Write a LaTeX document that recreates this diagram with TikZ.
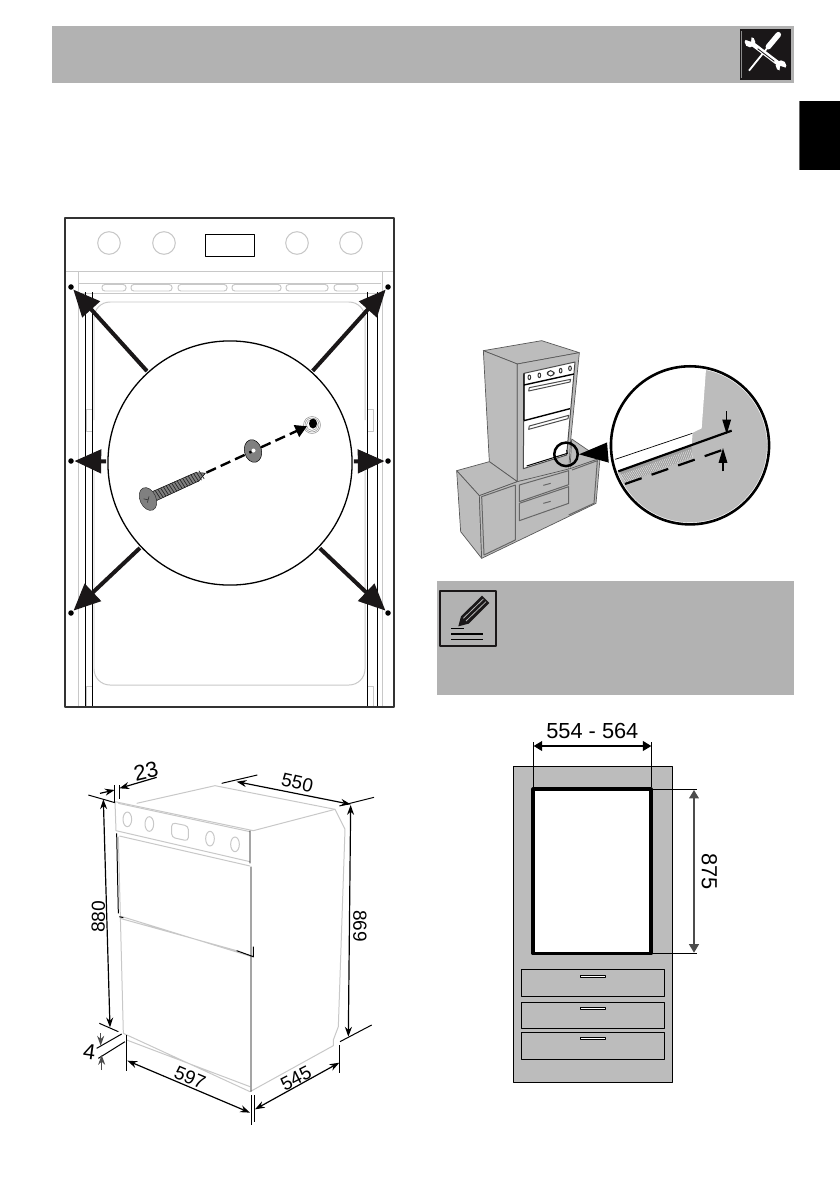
\documentclass[tikz,border=0pt]{standalone}
\usepackage{fontspec}
\setmainfont{Liberation Sans}
\usetikzlibrary{arrows.meta, shapes.geometric}
\definecolor{bargray}{HTML}{B2B2B2}
\definecolor{unitgray}{HTML}{BCBCBC}
\definecolor{edgegray}{HTML}{C8C8C8}
\definecolor{iconblack}{HTML}{1A1718}
\tikzset{>=Latex}
\tikzset{
	px/.style={line width=#1*0.2835pt},
	faint/.style={draw=edgegray, px=1},
	hair/.style={draw=black, px=1},
	mount dot/.style={circle, fill=black, minimum size=.55mm, inner sep=0pt},
	fix arrow/.style={draw=iconblack, px=4, -{Triangle[length=7.6pt, width=6.6pt]}},
	dim arrow/.style={draw=black, px=1.2, {Stealth[length=2.8pt, width=2pt]}-{Stealth[length=2.8pt, width=2pt]}},
	one way/.style={draw=black, px=1.2, -{Stealth[length=2.8pt, width=2pt]}},
	gap arrow/.style={draw=black, px=1.5, -{Triangle[length=4.2pt, width=2.4pt]}},
	big dim/.style={draw=black, px=1.2, {Triangle[length=2.4pt, width=2.8pt]}-{Triangle[length=2.4pt, width=2.8pt]}},
	dim label/.style={inner sep=0pt, font=\fontsize{6.2}{7}\selectfont},
	oven label/.style={inner sep=0pt, font=\fontsize{5.4}{7}\selectfont},
	body face/.style={fill=unitgray, draw=black!65, px=0.7},
}
\begin{document}
\begin{tikzpicture}[x=0.01cm, y=-0.01cm, line join=round]
	\useasboundingbox (0,0) rectangle (840,1191);
	\fill[white] (0,0) rectangle (840,1191);

	% Header bar and tab
	\fill[bargray] (52,26) rectangle (794,83);
	\fill[black] (799,101) rectangle (840,170);
	\draw[black!60, px=1] (799.5,101) -- (799.5,170);
	\fill[iconblack] (740,29) rectangle (791,80);
	\draw[black!45, px=1] (741.5,31) -- (741.5,78);
	\begin{scope}[shift={(735,24)}, scale=1/3]
		\draw[white, px=5.5, line cap=round] (130,32) -- (100,68);
		\draw[white, px=1.8] (100,68) -- (42,140);
		\draw[white, px=4.5] (50,58) -- (132,120);
		\draw[iconblack, px=.8] (68,74) -- (118,112);
		\fill[white] (45,54) circle[radius=16] (138,125) circle[radius=16];
		\fill[iconblack] (30,47) -- (48,53) -- (50,36) -- (46,28) -- (22,32) -- cycle;
		\fill[iconblack] (154,132) -- (136,126) -- (133,143) -- (140,152) -- (162,146) -- cycle;
	\end{scope}

	% Oven front with screw detail
	\draw[faint] (65,271) -- (394,271);
	\draw[faint] (78,271) -- (78,707) (382,271) -- (382,707);
	\draw[faint] (79,283) -- (381,283) (79,293) -- (381,293);
	\foreach \xa/\xb in {102/126,131/172,178/227,232/281,286/328,334/358}
		\draw[faint, rounded corners=.8pt] (\xa,284.5) rectangle (\xb,291);
	\foreach \kx in {109,164,297,351}
		\draw[faint] (\kx,243) circle[radius=11.3];
	\draw[hair] (205,234) rectangle (254,256);
	\draw[faint, rounded corners=1.6mm] (94,420) -- (94,302) -- (365,302) -- (365,420);
	\draw[faint, rounded corners=1.6mm] (94,466) -- (94,685) -- (365,685) -- (365,466);
	\draw[faint] (86,409) rectangle (92,431) (367,409) rectangle (373,431);
	\draw[faint] (86,686) rectangle (92,707) (367,686) rectangle (373,707);
	\foreach \lx in {85,92,367,377}
		\draw[hair] (\lx,292) -- (\lx,707);
	\draw[draw=black!80, px=1.6] (65,218) rectangle (394,707);

	\node[circle, fill=white, draw=black, px=1.3, minimum size=2.44cm, inner sep=0pt, outer sep=.5pt] (detail) at (230,463) {};
	\node[mount dot] (dotnw) at (71,287) {};
	\node[mount dot] (dotne) at (388,287) {};
	\node[mount dot] (dotw) at (71,461) {};
	\node[mount dot] (dote) at (388,461) {};
	\node[mount dot] (dotsw) at (71,613) {};
	\node[mount dot] (dotse) at (388,613) {};
	\foreach \i in {nw,ne,w,e,sw,se}
		\draw[fix arrow] (detail) -- (dot\i);

	% Screw, washer and hole
	\begin{scope}[shift={(148,499)}, rotate=24.3]
		\fill[black!50, draw=black, px=.5] (2,-5) -- (54,-4.5) -- (63,0) -- (54,4.5) -- (2,5) -- cycle;
		\foreach \t in {10,13,...,58}
			\draw[black!85, px=.7] (\t,-4.8) -- (\t+1.5,4.8);
		\node[ellipse, fill=black!50, draw=black!80, px=.5, minimum width=1.6mm, minimum height=2.4mm, inner sep=0pt, rotate=24.3] (screwhead) at (0,0) {};
		\draw[black!80, px=.6] (-4,-2) -- (0,1) (-2,3) -- (2,-2);
		\coordinate (screwtip) at (64,0);
	\end{scope}
	\node[ellipse, fill=black!50, draw=black, px=.5, minimum width=1.7mm, minimum height=2.3mm, inner sep=0pt, rotate=15] (washer) at (253,451) {};
	\fill[white] (253.5,450.5) circle[radius=2];
	\foreach \r in {8.5,7,5.5}
		\draw[black!45, px=.5] (312,425) circle[radius=\r];
	\node[ellipse, fill=black, minimum width=.8mm, minimum height=1mm, inner sep=0pt] (hole) at (313,423.5) {};
	\draw[px=2.4, dash pattern=on 3pt off 1.5pt, shorten >=-2pt] (screwtip) -- (washer);
	\draw[px=2.4, dash pattern=on 3pt off 1.5pt, shorten >=.5pt, -{Triangle[length=3.3pt, width=3.6pt]}] (washer) -- (hole);

	% Installed oven in the furniture
	\begin{scope}[shift={(440,340)}, scale=1/3]
		\draw[body face] (130,32) -- (305,2) -- (418,38) -- (232,72) -- cycle;
		\draw[body face] (130,32) -- (232,72) -- (232,425) -- (148,365) -- cycle;
		\draw[body face] (232,72) -- (418,38) -- (392,300) -- (386,392) -- (232,425) -- cycle;
		\draw[body face] (50,392) -- (148,365) -- (232,425) -- (118,467) -- cycle;
		\draw[body face] (395,297) -- (480,355) -- (390,388) -- cycle;
		\draw[body face] (50,392) -- (118,467) -- (125,655) -- (62,575) -- cycle;
		\draw[body face] (118,467) -- (232,425) -- (390,386) -- (480,355) -- (468,490) -- (125,655) -- cycle;
		\draw[hair, draw=black!60] (125,470) -- (226,435) -- (226,600) -- (132,645) -- cycle;
		\draw[hair, draw=black!60] (238,435) -- (386,392) -- (386,434) -- (238,485) -- cycle;
		\draw[hair, draw=black!60] (238,490) -- (386,440) -- (386,490) -- (238,542) -- cycle;
		\draw[hair, draw=black!60] (396,390) -- (472,362) -- (462,490) -- (386,525);
		\draw[hair, draw=black!60] (310,436) -- (332,430) (310,490) -- (332,484);
		\draw[draw=black!70, px=1, fill=white] (252,100) -- (405,66) -- (380,345) -- (250,386) -- cycle;
		\draw[hair, draw=black, px=1.4] (252,100) -- (252,240) (252,135) -- (402,102) (252,242) -- (390,206);
		\draw[hair, draw=black!70] (268,143) -- (392,118) -- (390,126) -- (266,153) -- cycle;
		\draw[hair, draw=black!70] (268,258) -- (386,226) -- (384,236) -- (266,268) -- cycle;
		\foreach \kx/\ky in {268/112,298/106,362/92,390/85}
			\draw[hair, draw=black!80] (\kx,\ky) ellipse[x radius=4, y radius=7];
		\draw[hair, draw=black!80, rounded corners=1pt] (322,92) rectangle (342,108);
		\draw[px=1, draw=black] (260,378) -- (382,340) -- (380,330);

		\node[circle, draw=black, px=2.5, minimum size=.235cm, inner sep=0pt] (callout) at (378,343) {};
		\node[circle, fill=unitgray, draw=white, px=6, minimum size=1.6cm, inner sep=0pt] (lens) at (750,316) {};
		\begin{scope}
			\clip (750,316) circle[radius=237];
			\fill[white] (800,60) -- (785,265) -- (758,278) -- (755,315) -- (530,394) -- (500,350) -- (500,60) -- cycle;
			\fill[black!38] (540,395) -- (755,315) -- (755,352) -- (556,430) -- cycle;
			\foreach \h in {0,1,...,40}
				\draw[white!70!unitgray, px=.4] (542+\h*5.2,404-\h*1.9) -- (558+\h*5,428-\h*1.9);
			\draw[px=.7] (526,358) -- (757,280);
			\draw[px=2.2] (535,394) -- (875,272);
			\draw[px=2.2, dash pattern=on 5pt off 3pt] (555,432) -- (870,322);
		\end{scope}
		\draw[gap arrow] (860,213) -- (860,283);
		\draw[gap arrow] (849,394) -- (849,324);
		\node[circle, draw=black, px=2.6, minimum size=1.58cm, inner sep=0pt] (lensrim) at (750,316) {};
		\fill[black] (callout.east) -- (lens.178) -- (lens.192) -- cycle;
	\end{scope}

	% Note box
	\fill[bargray] (437,581) rectangle (794,695);
	\begin{scope}[shift={(430,575)}, scale=1/3]
		\draw[fill=bargray, draw=iconblack, px=2] (30,48) rectangle (197,214);
		\fill[iconblack] (85,154) -- (93,124) -- (156,62) -- (178,84) -- (116,146) -- cycle;
		\draw[bargray, px=.8] (100,130) -- (160,72);
		\draw[bargray, px=.8] (108,138) -- (168,80);
		\draw[black, px=.9] (63,160) -- (102,160);
		\draw[black, px=2] (63,177) -- (158,177);
		\draw[black, px=.9] (63,193) -- (158,193);
	\end{scope}

	% Oven dimensions
	\begin{scope}[shift={(70,740)}, scale=1/3]
		\draw[faint] (200,190) -- (435,137) -- (795,208) -- (825,268) -- (805,860) -- (790,900) -- (790,917) -- (540,1055);
		\draw[faint] (135,185) -- (550,272) -- (795,208);
		\draw[faint] (135,185) -- (138,272) -- (540,365) (148,288) -- (540,378);
		\draw[faint] (145,190) -- (540,275);
		\draw[faint] (145,290) -- (160,880) -- (540,1055) (170,900) -- (540,1040);
		\draw[faint] (150,528) -- (552,652) (150,535) -- (500,632);
		\foreach \kx/\ky in {172/238,238/252,420/296,495/313}
			\draw[faint] (\kx,\ky) ellipse[x radius=13, y radius=22];
		\draw[faint, rounded corners=1pt] (305,248) -- (355,258) -- (355,303) -- (305,292) -- cycle;
		\draw[hair] (540,272) -- (540,370) (543,380) -- (543,1055) (140,280) -- (145,520);
		\draw[hair] (148,530) -- (160,533) (500,632) -- (550,650) -- (550,620);
		\draw[hair] (170,885) -- (170,992) (543,1065) -- (543,1155) (553,1065) -- (553,1145) (808,915) -- (808,1000);
		\draw[hair] (134,135) -- (134,185) (148,135) -- (148,178);
		\draw[hair] (455,130) -- (562,105) (808,198) -- (912,172);
		\draw[hair] (55,165) -- (135,188) (88,850) -- (145,875);
		\draw[hair] (810,905) -- (905,855);
		\draw[hair] (80,925) -- (155,882) (85,955) -- (165,905);
		\coordinate (lena) at (100,178); \coordinate (lenb) at (120,862);
		\coordinate (lenc) at (500,125); \coordinate (lend) at (842,193);
		\coordinate (lene) at (842,195); \coordinate (lenf) at (835,890);
		\coordinate (leng) at (172,962); \coordinate (lenh) at (540,1118);
		\coordinate (leni) at (555,1108); \coordinate (lenj) at (808,968);
		\draw[dim arrow] (lena) -- (lenb);
		\draw[dim arrow] (lenc) -- (lend);
		\draw[dim arrow] (lene) -- (lenf);
		\draw[dim arrow] (leng) -- (lenh);
		\draw[dim arrow] (leni) -- (lenj);
		\draw[one way] (90,160) -- (134,150);
		\draw[one way] (260,112) -- (148,145);
		\draw[one way, draw=black!70] (92,880) -- (92,917);
		\draw[one way, draw=black!70] (95,990) -- (95,945);
		\node[dim label, rotate=13] (labb) at (228,93) {23};
		\node[oven label, rotate=-13] (labc) at (682,128) {550};
		\node[oven label, rotate=89] (labd) at (85,530) {880};
		\node[oven label, rotate=-90] (labe) at (870,558) {869};
		\node[oven label, rotate=-23] (labf) at (360,1012) {597};
		\node[oven label, rotate=27] (labg) at (678,1015) {545};
		\node[dim label, rotate=-8] (labh) at (58,935) {4};
	\end{scope}

	% Furniture opening
	\begin{scope}[shift={(500,710)}, scale=1/3]
		\draw[fill=unitgray, draw=black, px=1] (40,170) rectangle (518,1117);
		\draw[fill=white, draw=black, px=3.2] (99,237) rectangle (453,731);
		\foreach \ya/\yb in {778/859,877/955,967/1048}
			\draw[hair] (64,\ya) rectangle (494,\yb);
		\foreach \yh in {796,892,982}
			\draw[hair, fill=white] (241,\yh) rectangle (317,\yh+7);
		\draw[hair] (101,97) -- (101,232) (454,97) -- (454,232);
		\draw[hair] (453,238) -- (590,238) (453,730) -- (590,730);
		\coordinate (widtha) at (101,108); \coordinate (widthb) at (454,108);
		\coordinate (heighta) at (582,240); \coordinate (heightb) at (582,728);
		\draw[big dim] (widtha) -- (widthb);
		\draw[big dim, draw=black!70] (heighta) -- (heightb);
		\node[dim label] (labwidth) at (277,63) {554 - 564};
		\node[dim label, rotate=-90] (labheight) at (628,485) {875};
	\end{scope}
\end{tikzpicture}
\end{document}
